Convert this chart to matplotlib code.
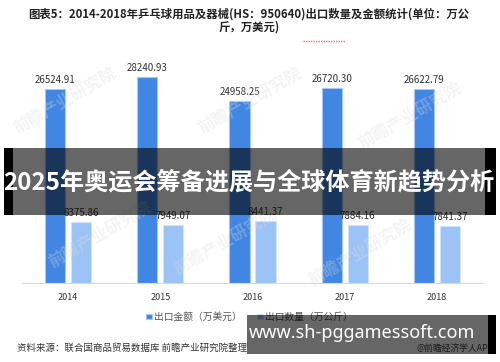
import numpy as np
import matplotlib.pyplot as plt
from matplotlib.patches import Rectangle
from matplotlib.lines import Line2D

plt.rcParams['font.family'] = ['Noto Sans CJK SC', 'DejaVu Sans']

years = ['2014', '2015', '2016', '2017', '2018']
amount = [26524.91, 28240.93, 24958.25, 26720.30, 26622.79]   # 出口金额（万美元）
quantity = [8375.86, 7949.07, 8441.37, 7884.16, 7841.37]       # 出口数量（万公斤）

blue = '#4186e3'
light = '#9cc3f5'

fig = plt.figure(figsize=(5, 3.62), dpi=100)
ax = fig.add_axes([0.044, 0.2182, 0.922, 0.616])

x = np.arange(len(years))
w = 0.217
off = 0.141
ax.bar(x - off, amount, w, color=blue, edgecolor='#a6c7f2', linewidth=0.8,
       label='出口金额（万美元）')
ax.bar(x + off, quantity, w, color=light, edgecolor='#d0e3fa', linewidth=0.8,
       label='出口数量（万公斤）')

for xi, v in zip(x, amount):
    ax.annotate(f'{v:.2f}', (xi - off, v), xytext=(0, 3), textcoords='offset points',
                ha='center', va='bottom', fontsize=7, color='#333333')
for xi, v in zip(x, quantity):
    ax.annotate(f'{v:.2f}', (xi + off, v), xytext=(0, 3), textcoords='offset points',
                ha='center', va='bottom', fontsize=7, color='#333333')

ax.set_xlim(-0.5, 4.5)
ax.set_ylim(0, 30550)
ax.set_xticks(x)
ax.set_xticklabels(years, fontsize=6.5, color='#333333')
ax.tick_params(axis='x', length=0, pad=7)
ax.set_yticks([])
for s in ['top', 'left', 'right']:
    ax.spines[s].set_visible(False)
ax.spines['bottom'].set_color('#d9d9d9')

ax.legend(loc='center', bbox_to_anchor=(0.499, 0.1243), bbox_transform=fig.transFigure,
          ncol=2, frameon=False, fontsize=7, handlelength=0.55, handleheight=0.55,
          handletextpad=0.25, columnspacing=1.6, labelcolor='#555555')

# faint watermarks
for wx, wy in [(0.13, 0.72), (0.45, 0.33), (0.82, 0.68), (0.72, 0.3), (0.2, 0.35), (0.5, 0.72)]:
    fig.text(wx, wy, '前瞻产业研究院', fontsize=12, color='#dddddd', alpha=0.3,
             rotation=30, ha='center', va='center', weight='bold', zorder=1)

# title
fig.text(0.498, 1 - 14 / 362, '图表5：2014-2018年乒乓球用品及器械(HS：950640)出口数量及金额统计(单位：万公',
         ha='center', va='center', fontsize=8.2, weight='bold', color='#222222')
fig.text(0.498, 1 - 27 / 362, '斤，万美元)', ha='center', va='center', fontsize=8.2,
         weight='bold', color='#222222')
fig.add_artist(Line2D([303 / 500, 345 / 500], [1 - 41 / 362] * 2, color='#f07070',
                      linestyle=(0, (1, 0.8)), linewidth=1))

# source
fig.text(17 / 500, 1 - 348 / 362, '资料来源：联合国商品贸易数据库 前瞻产业研究院整理',
         ha='left', va='center', fontsize=6.8, color='#333333')
fig.text(494 / 500, 1 - 348 / 362, '@前瞻经济学人APP', ha='right', va='center',
         fontsize=6.3, color='#444444', zorder=4)

# middle overlay banner
def frect(x0, y0, x1, y1, **kw):
    fig.add_artist(Rectangle((x0 / 500, 1 - y1 / 362), (x1 - x0) / 500, (y1 - y0) / 362,
                             transform=fig.transFigure, **kw))

frect(13, 148, 485, 215, facecolor='black', alpha=0.6, edgecolor='none', zorder=10)
frect(4, 148, 13, 215, facecolor='black', edgecolor='none', zorder=10)
frect(485, 148, 496, 215, facecolor='black', edgecolor='none', zorder=10)
fig.text(249 / 500, 1 - 182 / 362, '2025年奥运会筹备进展与全球体育新趋势分析', ha='center',
         va='center', fontsize=17.4, weight='bold', color='white', zorder=11)

# bottom overlay banner
frect(247, 315, 488, 354, facecolor='black', alpha=0.6, edgecolor='none', zorder=10)
frect(488, 315, 496, 354, facecolor='black', edgecolor='none', zorder=10)
fig.text(362 / 500, 1 - 333 / 362, 'www.sh-pggamessoft.com', ha='center', va='center',
         fontsize=13, weight='bold', color='white', zorder=11,
         family=['Noto Sans', 'DejaVu Sans'])

fig.savefig('out.png', dpi=100)
